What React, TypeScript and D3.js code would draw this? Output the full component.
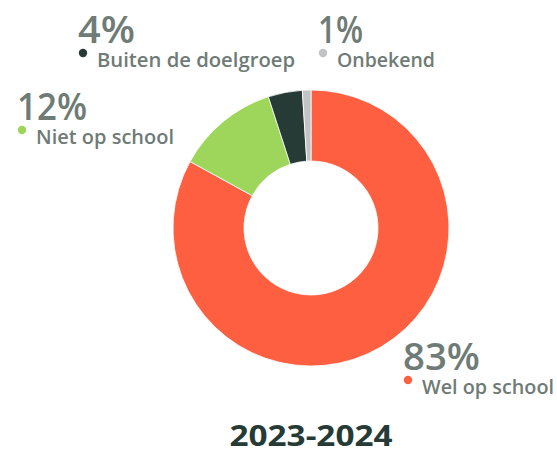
import React from "react";
import * as d3 from "d3";

const categories = ["Wel op school", "Niet op school", "Buiten de doelgroep", "Onbekend"];
const values = [83, 12, 4, 1];
const colors = ["#fe5f40", "#9dd65b", "#263a36", "#c0c4c4"];
const title = "2023-2024";

// label layout (annotation anchor, widths of value text and name text)
const labelPos: [number, number][] = [
  [403, 370],
  [17, 120],
  [78, 43],
  [318, 43],
];
const valueWidths = [77, 70, 57, 45];
const nameWidths = [132, 138, 198, 98];

const W = 557, H = 449;
const cx = 311, cy = 228, R = 138, r = 67;
const textGray = "#6f7b76";
const font = "'Open Sans', Lato, sans-serif";

export default function App() {
  const pie = d3.pie<number>().sort(null).value((d) => d);
  const arcs = pie(values);
  const arc = d3.arc<d3.PieArcDatum<number>>().innerRadius(r).outerRadius(R);
  return (
    <svg width={W} height={H} style={{ position: "absolute", left: 0, top: 0 }}>
      <g transform={`translate(${cx},${cy})`}>
        {arcs.map((a, i) => (
          <path key={i} d={arc(a) || ""} fill={colors[i]} stroke="#fff" strokeWidth={0.8} />
        ))}
      </g>
      {categories.map((c, i) => {
        const [x, y] = labelPos[i];
        return (
          <g key={c} fontFamily={font} fontWeight={600} fill={textGray}>
            <text x={x} y={y} fontSize={38} textLength={valueWidths[i]} lengthAdjust="spacingAndGlyphs">
              {values[i]}%
            </text>
            <circle cx={x + 5} cy={y + 10} r={4.2} fill={colors[i]} />
            <text x={x + 19} y={y + 24} fontSize={19} textLength={nameWidths[i]} lengthAdjust="spacingAndGlyphs">
              {c}
            </text>
          </g>
        );
      })}
      <text x={cx} y={446} textAnchor="middle" fontFamily={font} fontWeight={700} fontSize={28} fill="#263a36"
        textLength={163} lengthAdjust="spacingAndGlyphs">
        {title}
      </text>
    </svg>
  );
}
